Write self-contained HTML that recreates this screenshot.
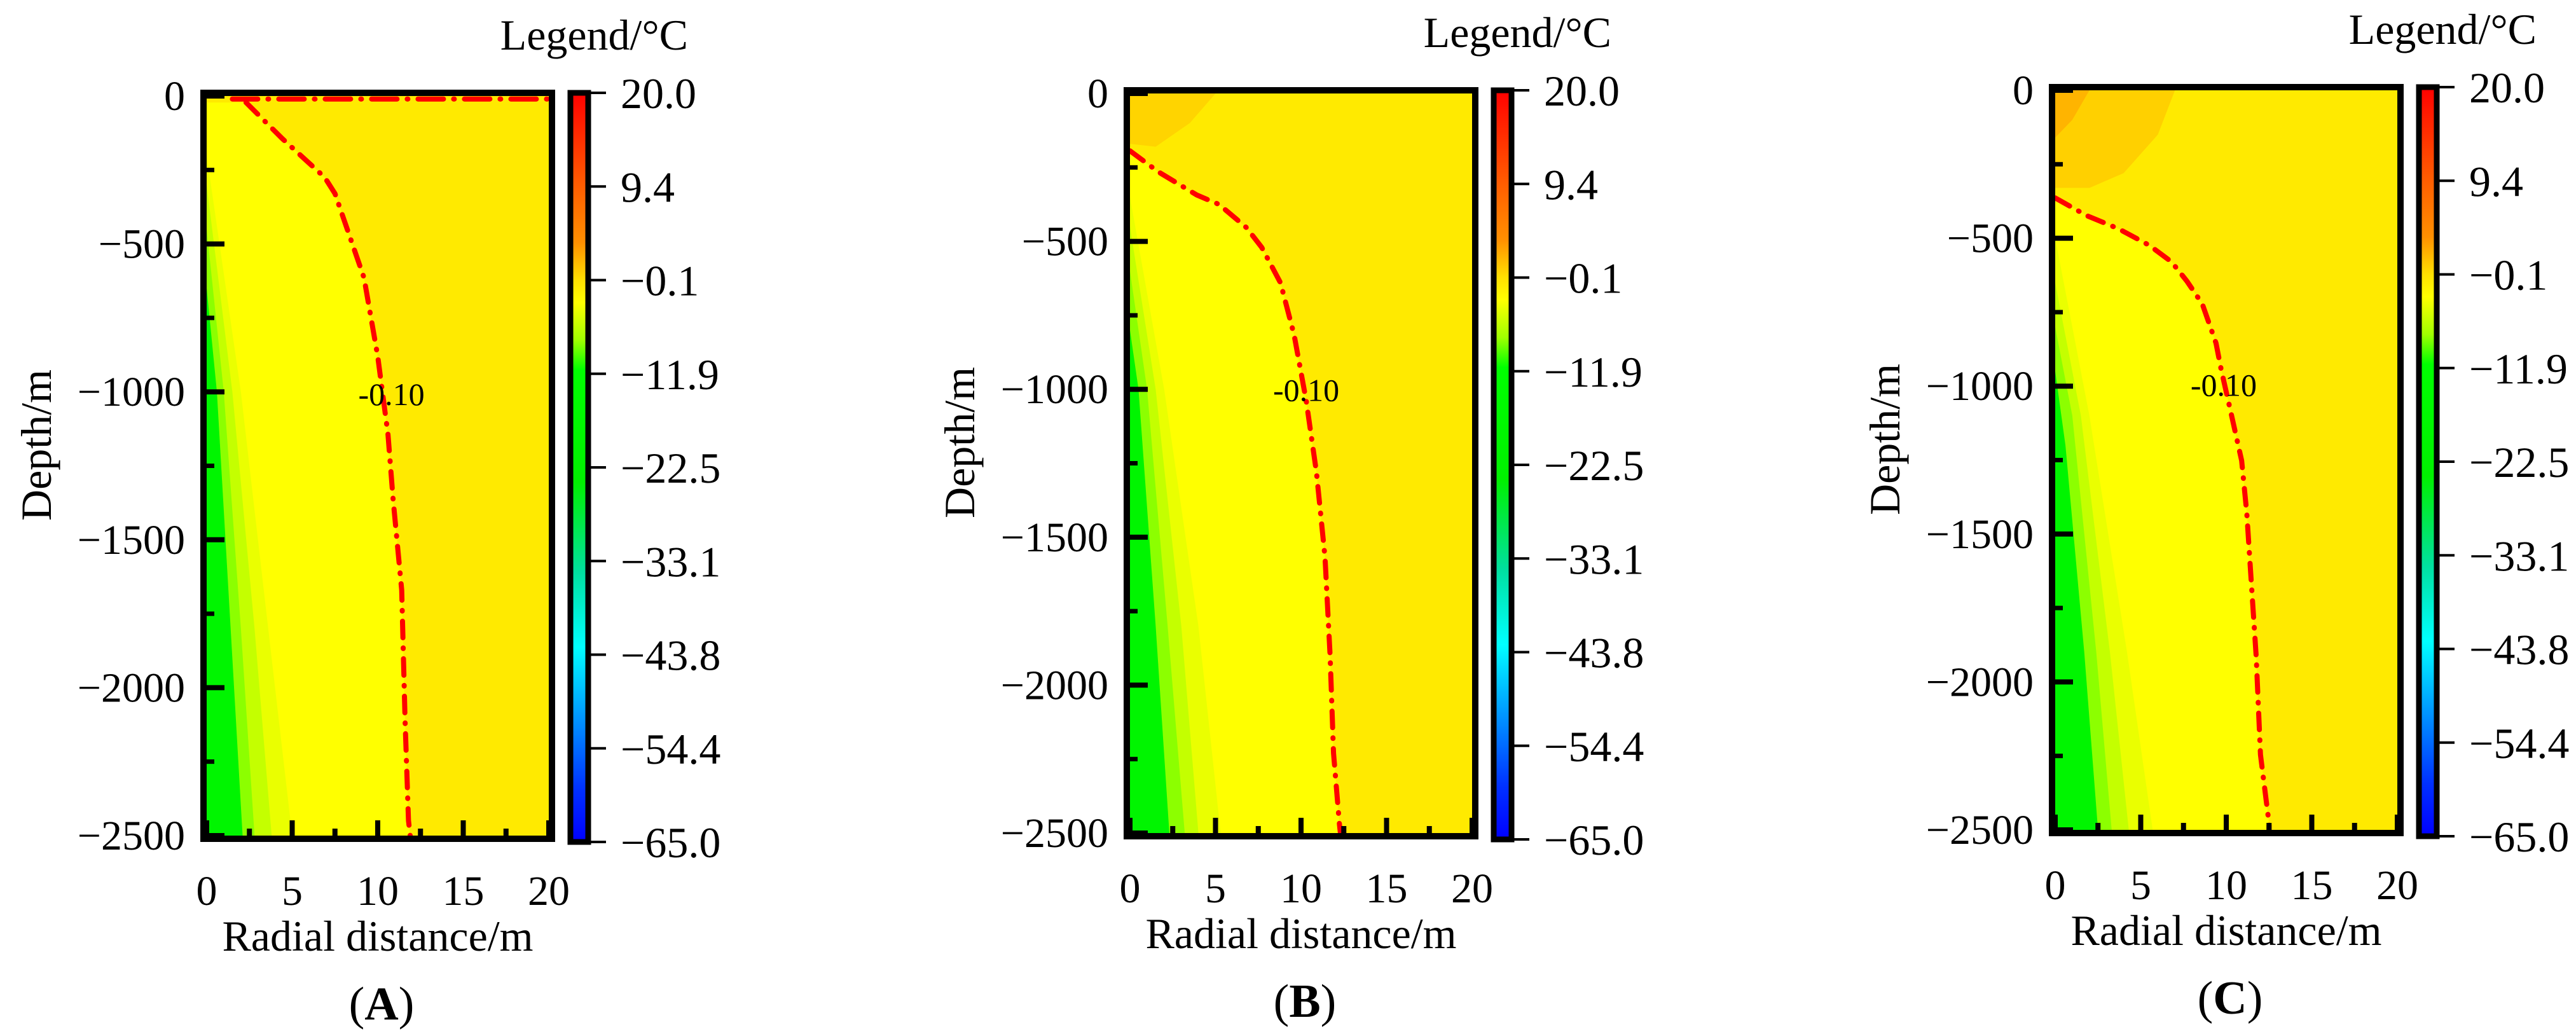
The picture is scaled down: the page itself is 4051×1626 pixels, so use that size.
<!DOCTYPE html>
<html><head><meta charset="utf-8">
<style>
html,body{margin:0;padding:0;background:#fff;}
svg{display:block;font-family:"Liberation Serif","Times New Roman",serif;}
svg text{font-family:"Liberation Serif","Times New Roman",serif;fill:#000;}
</style></head>
<body>
<svg id="fig" xmlns="http://www.w3.org/2000/svg" width="4051" height="1626" viewBox="0 0 4051 1626" font-family="Liberation Serif, serif"></svg>
<script>
// ---- data ----
const panelLabels = ["A", "B", "C"];
const xTicks = [0, 5, 10, 15, 20];
const xMinorTicks = [2.5, 7.5, 12.5, 17.5];
const yTicks = [0, -500, -1000, -1500, -2000, -2500];
const yMinorTicks = [-250, -750, -1250, -1750, -2250];
const colorbarLabels = ["20.0", "9.4", "\u22120.1", "\u221211.9", "\u221222.5", "\u221233.1", "\u221243.8", "\u221254.4", "\u221265.0"];
const contourLevel = "-0.10";

// contour -0.10 (radial x, depth)
const contourAx = [2.3, 4.4, 6.9, 7.5, 9.2, 10.0, 10.6, 10.9, 11.4, 11.6, 11.8, 11.9];
const contourAd = [-22, -143, -275, -330, -615, -880, -1143, -1363, -1670, -2110, -2450, -2500];
const topLineAx = [1.5, 20];
const topLineAd = [-10, -10];
const contourBx = [0, 1.66, 3.9, 5.2, 6.8, 7.7, 8.8, 9.6, 10.3, 10.9, 11.4, 11.7, 11.9, 12.25, 12.3];
const contourBd = [-194, -265, -343, -375, -453, -520, -640, -817, -1038, -1280, -1568, -1900, -2230, -2473, -2500];
const contourCx = [0, 1.85, 3.7, 5.5, 6.8, 7.7, 8.6, 9.4, 9.7, 10.3, 10.9, 11.2, 11.5, 11.75, 12.0, 12.5, 12.5];
const contourCd = [-364, -424, -468, -524, -580, -645, -722, -855, -943, -1097, -1252, -1430, -1694, -1915, -2246, -2478, -2500];
const labelPosX = [10.8, 10.3, 9.85];
const labelPosD = [-1010, -1005, -998];

// cold bands (x at depth), from warm to cold
const bandColors = ["#eaff00", "#c4ff00", "#8cff00", "#00f500"];
const bandsA = [
  [[0,-200],[2.0,-1000],[3.6,-1800],[5.0,-2500]],
  [[0,-300],[1.5,-1000],[2.8,-1800],[3.8,-2500]],
  [[0,-450],[1.0,-1000],[2.0,-1800],[2.8,-2500]],
  [[0,-650],[0.6,-1000],[1.4,-1800],[2.1,-2500]]];
const bandsB = [
  [[0,-350],[2.0,-1000],[4.0,-1800],[5.3,-2500]],
  [[0,-450],[1.5,-1000],[3.0,-1800],[4.0,-2500]],
  [[0,-600],[1.0,-1000],[2.2,-1800],[3.2,-2500]],
  [[0,-800],[0.5,-1000],[1.5,-1800],[2.3,-2500]]];
const bandsC = [
  [[0,-500],[2.0,-1100],[4.2,-1900],[5.7,-2500]],
  [[0,-650],[1.5,-1100],[3.2,-1900],[4.3,-2500]],
  [[0,-800],[1.0,-1100],[2.4,-1900],[3.3,-2500]],
  [[0,-950],[0.6,-1200],[1.7,-1900],[2.5,-2500]]];
const blobsA = [];
const blobsB = [{c:"#ffd400", p:[[0,0],[5,0],[3.5,-100],[1.5,-180],[0,-170]]}];
const blobsC = [{c:"#ffd000", p:[[0,0],[7,0],[6,-150],[4,-280],[2,-330],[0,-330]]},
                {c:"#ffb400", p:[[0,0],[2,0],[1,-100],[0,-160]]}];

// ---- drawing ----
const NS = "http://www.w3.org/2000/svg";
const FONT = "Liberation Serif, Times New Roman, serif";
const svg = document.getElementById("fig");
function mk(tag, attrs, parent){
  const e = document.createElementNS(NS, tag);
  for (const k in attrs) e.setAttribute(k, attrs[k]);
  if (tag === "text") e.setAttribute("font-family", FONT);
  (parent||svg).appendChild(e);
  return e;
}
const defs = mk("defs", {});
const grad = mk("linearGradient", {id:"cbar", x1:"0", y1:"0", x2:"0", y2:"1"}, defs);
[["0","#ff0000"],["0.12","#ff5a00"],["0.2","#ff9000"],["0.25","#ffe000"],["0.28","#ffff00"],["0.33","#a0ff00"],["0.37","#00ff00"],["0.52","#00f000"],["0.64","#00e0a0"],["0.74","#00ffff"],["0.84","#0090ff"],["0.93","#0030ff"],["1","#0000ff"]]
 .forEach(s=>mk("stop",{offset:s[0],"stop-color":s[1]},grad));

const panels = [
  {dx:0, dy:0, contourX:contourAx, contourD:contourAd, bands:bandsA, blobs:blobsA, extra:true},
  {dx:1452, dy:-4, contourX:contourBx, contourD:contourBd, bands:bandsB, blobs:blobsB, extra:false},
  {dx:2907, dy:-9, contourX:contourCx, contourD:contourCd, bands:bandsC, blobs:blobsC, extra:false}
];

panels.forEach((P, pi) => {
  const g = mk("g", {transform:`translate(${P.dx},${P.dy})`});
  
  
  const X0 = 325, X1 = 863, Y0 = 151, Y1 = 1314;
  const sx = v => X0 + (v/20)*(X1-X0);
  const sy = d => Y0 + (-d/2500)*(Y1-Y0);
  const pts = arr => arr.map(p=>sx(p[0]).toFixed(1)+","+sy(p[1]).toFixed(1)).join(" ");

  const clip = mk("clipPath", {id:"clip"+pi}, defs);
  mk("rect", {x:X0, y:Y0, width:X1-X0, height:Y1-Y0}, clip);
  const field = mk("g", {"clip-path":`url(#clip${pi})`}, g);
  
  
  const bg = mk("rect", {x:X0, y:Y0, width:X1-X0, height:Y1-Y0, fill:"#ffea00"}, field);
  
  
  P.blobs.forEach(b=>{
    const e = mk("polygon", {points:pts(b.p), fill:b.c}, field);
    
    
  });
  const cpts = P.contourX.map((x,i)=>[x,P.contourD[i]]);
  const yl = [[0,cpts[0][1]]].concat(cpts).concat([[0,-2500]]);
  const ye = mk("polygon", {points:pts(yl), fill:"#ffff00"}, field);
  
  
  P.bands.forEach((b, bi)=>{
    const poly = b.concat([[0,-2500]]);
    const e = mk("polygon", {points:pts(poly), fill:bandColors[bi]}, field);
    
    
  });
  const cl = mk("polyline", {points:pts(cpts), fill:"none", stroke:"#ff0000", "stroke-width":8, "stroke-linecap":"round", "stroke-dasharray":"26 16 1 16"}, field);
  
  
  if (P.extra){
    const tl = mk("polyline", {points:pts(topLineAx.map((x,i)=>[x,topLineAd[i]])), fill:"none", stroke:"#ff0000", "stroke-width":8, "stroke-linecap":"round", "stroke-dasharray":"40 16 1 16"}, field);
    
    
  }
  const lab = mk("text", {x:sx(labelPosX[pi]), y:sy(labelPosD[pi])+16, "font-size":50, "text-anchor":"middle"}, g);
  lab.textContent = contourLevel;
  
  

  yTicks.forEach(t=>{
    const l = mk("line", {x1:X0, x2:X0+28, y1:sy(t), y2:sy(t), stroke:"#000", "stroke-width":8}, g);
    
    
    const tx = mk("text", {x:291, y:sy(t)+22, "font-size":66, "text-anchor":"end"}, g);
    tx.textContent = t===0 ? "0" : "\u2212" + Math.abs(t);
    
    
  });
  yMinorTicks.forEach(t=>{
    const l = mk("line", {x1:X0, x2:X0+12, y1:sy(t), y2:sy(t), stroke:"#000", "stroke-width":7}, g);
    
    
  });
  xTicks.forEach(t=>{
    const l = mk("line", {x1:sx(t), x2:sx(t), y1:Y1, y2:Y1-24, stroke:"#000", "stroke-width":8}, g);
    
    
    const tx = mk("text", {x:sx(t), y:1423, "font-size":66, "text-anchor":"middle"}, g);
    tx.textContent = String(t);
    
    
  });
  xMinorTicks.forEach(t=>{
    const l = mk("line", {x1:sx(t), x2:sx(t), y1:Y1, y2:Y1-11, stroke:"#000", "stroke-width":8}, g);
    
    
  });
  const fr = mk("rect", {x:X0-5, y:Y0-5, width:X1-X0+10, height:Y1-Y0+10, fill:"none", stroke:"#000", "stroke-width":10}, g);
  
  

  const xt = mk("text", {x:594, y:1495, "font-size":68, "text-anchor":"middle"}, g);
  xt.textContent = "Radial distance/m";
  
  
  const yt = mk("text", {x:80, y:700, "font-size":68, "text-anchor":"middle", transform:"rotate(-90 80 700)"}, g);
  yt.textContent = "Depth/m";
  
  
  const pt = mk("text", {x:600, y:1603, "font-size":74, "text-anchor":"middle"}, g);
  pt.innerHTML = `(<tspan font-weight="bold">${panelLabels[pi]}</tspan>)`;
  
  

  const CB0 = 146, CB1 = 1324;
  const cb = mk("rect", {x:897, y:CB0, width:28, height:CB1-CB0, fill:"url(#cbar)", stroke:"#000", "stroke-width":9}, g);
  
  
  colorbarLabels.forEach((s, i)=>{
    const y = CB0 + i*(CB1-CB0)/(colorbarLabels.length-1);
    const l = mk("line", {x1:925, x2:953, y1:y, y2:y, stroke:"#000", "stroke-width":4}, g);
    
    
    const tx = mk("text", {x:976, y:y+24, "font-size":68}, g);
    tx.textContent = s;
    
    
  });
  const lg = mk("text", {x:1082, y:78, "font-size":68, "text-anchor":"end"}, g);
  lg.textContent = "Legend/\u00B0C";
  
  
});
</script>
</body></html>
